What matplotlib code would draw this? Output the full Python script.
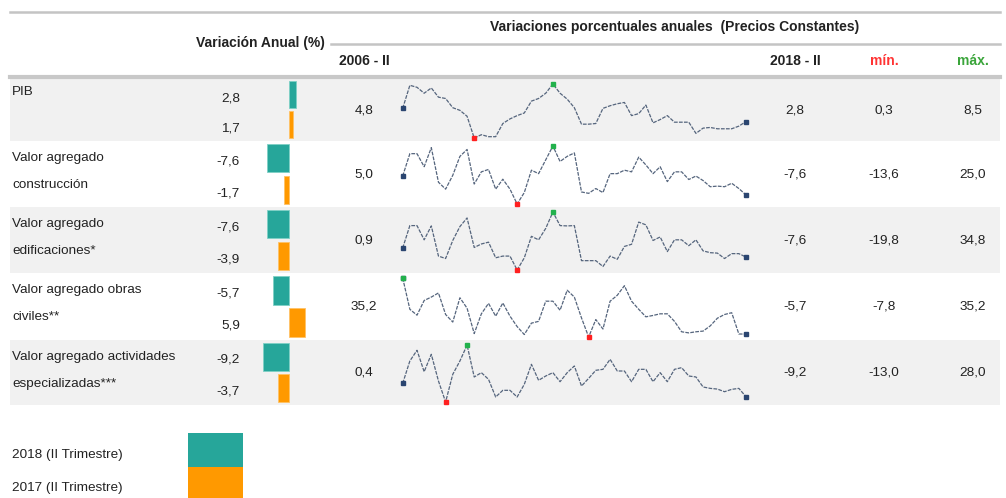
import numpy as np
import matplotlib.pyplot as plt
from matplotlib.patches import Rectangle
from matplotlib import font_manager

# the source uses a condensed face; use it when installed
names = {f.name for f in font_manager.fontManager.ttflist}
if 'Liberation Sans Narrow' in names:
    plt.rcParams['font.family'] = ['Liberation Sans Narrow', 'DejaVu Sans']
    FS, FSB = 11.8, 12.0
else:
    plt.rcParams['font.family'] = ['Liberation Sans', 'DejaVu Sans']
    FS, FSB = 9.7, 10

W, H = 1006, 498

# ---- data ----
row_labels = ["PIB",
              "Valor agregado\nconstrucción",
              "Valor agregado\nedificaciones*",
              "Valor agregado obras\nciviles**",
              "Valor agregado actividades\nespecializadas***"]

var_2018 = [2.8, -7.6, -7.6, -5.7, -9.2]
var_2017 = [1.7, -1.7, -3.9, 5.9, -3.7]

# quarterly annual variation, 2006-II .. 2018-II (49 quarters)
pib = [4.8, 8.3, 8.0, 7.1, 7.9, 6.5, 6.3, 4.9, 4.5, 3.6,
       0.3, 0.8, 0.5, 0.5, 2.5, 3.2, 3.7, 4.1, 5.9, 6.3,
       7.1, 8.5, 7.1, 6.2, 4.9, 2.4, 2.4, 2.5, 4.8, 5.2,
       5.5, 5.7, 3.7, 4.0, 5.3, 2.6, 3.1, 3.7, 2.7, 2.7,
       2.7, 1.0, 1.8, 1.9, 1.7, 1.7, 1.7, 2.1, 2.8]
construccion = [5.0, 19.9, 19.9, 11.2, 23.9, 0.9, -3.7, 5.5, 18.1, 22.7,
                -0.3, 7.8, 9.4, -3.7, 2.9, -3.7, -13.6, -6.0, 8.9, 6.6,
                15.8, 25.0, 14.7, 18.1, 20.4, -5.6, -6.5, -3.3, -6.0, 6.6,
                6.6, 8.9, 7.8, 17.6, 12.4, 6.6, 11.2, 1.3, 7.8, 7.8,
                2.7, 5.0, 2.0, -2.1, -1.7, -2.1, 0.2, -3.3, -7.6]
edificaciones = [0.9, 22.0, 22.0, 8.6, 21.7, -6.7, -9.0, 8.0, 21.1, 29.2,
                 1.4, 4.7, 6.4, -8.3, -6.7, -6.7, -19.8, -8.4, 11.9, 8.6,
                 19.4, 34.8, 22.0, 21.7, 22.0, -11.0, -11.0, -11.0, -16.5, -6.7,
                 -9.7, 2.4, 4.4, 25.3, 22.7, 8.0, 11.3, -2.5, 8.6, 8.6,
                 3.1, 8.6, -1.8, -3.5, -3.9, -9.0, -4.4, -4.4, -7.6]
obras_civiles = [35.2, 12.4, 8.1, 18.8, 21.3, 24.3, 8.6, 3.1, 20.8, 13.2,
                 -5.3, 9.1, 16.7, 7.4, 17.0, 7.4, -0.2, -6.0, 2.3, 3.6,
                 18.3, 18.3, 11.7, 26.3, 21.3, 6.1, -7.8, 4.9, -2.0, 18.3,
                 22.6, 29.6, 18.3, 12.4, 6.9, 7.9, 9.1, 9.1, 3.6, -4.0,
                 -4.8, -4.0, -3.5, 0.3, 5.9, 8.6, 9.9, -5.6, -5.7]
actividades = [0.4, 16.5, 24.2, 8.8, 21.3, 2.1, -13.0, 6.9, 16.5, 28.0,
               5.0, 8.1, 3.3, -9.4, -4.6, -4.6, -9.4, -0.3, 14.1, 2.6,
               5.7, 8.1, 1.6, 8.1, 12.9, -1.5, 4.0, 9.8, 10.5, 17.7,
               9.3, 9.3, 1.6, 10.5, 10.5, 1.6, 8.1, 1.6, 10.5, 11.7,
               5.7, 5.0, -2.2, -3.2, -3.7, -5.6, -3.9, -3.2, -9.2]

series = [pib, construccion, edificaciones, obras_civiles, actividades]

TEAL = '#26a69a'
ORANGE = '#ff9900'
TXT = '#222222'


def fmt(v):
    return f"{v:.1f}".replace('.', ',')


def px_axes(fig, x0, y0, x1, y1):
    return fig.add_axes([x0 / W, 1 - y1 / H, (x1 - x0) / W, (y1 - y0) / H])


fig = plt.figure(figsize=(W / 100, H / 100), dpi=100)
bg = fig.add_axes([0, 0, 1, 1])
bg.set_xlim(0, W)
bg.set_ylim(H, 0)
bg.axis('off')

# row layout (pixels)
row_tops = [79, 141, 207, 273, 340]
row_bots = [141, 207, 273, 340, 405]

for i, (t, b) in enumerate(zip(row_tops, row_bots)):
    if i % 2 == 0:
        bg.add_patch(Rectangle((10, t), 990, b - t, color='#f1f1f1', lw=0, zorder=0))

# header lines
bg.plot([10, 1000], [12, 12], color='#c4c4c4', lw=1.8)
bg.plot([331, 1000], [44, 44], color='#c4c4c4', lw=1.8)
bg.plot([10, 1000], [76.5, 76.5], color='#c8c8c8', lw=3)

bg.text(260, 43, "Variación Anual (%)", ha='center', va='center',
        fontsize=FSB, fontweight='bold', color=TXT)
bg.text(675, 27, "Variaciones porcentuales anuales  (Precios Constantes)",
        ha='center', va='center', fontsize=FSB, fontweight='bold', color=TXT)
bg.text(364, 61, "2006 - II", ha='center', va='center', fontsize=FSB,
        fontweight='bold', color=TXT)
bg.text(795, 61, "2018 - II", ha='center', va='center', fontsize=FSB,
        fontweight='bold', color=TXT)
bg.text(884, 61, "mín.", ha='center', va='center', fontsize=FSB,
        fontweight='bold', color='#ff3333')
bg.text(973, 61, "máx.", ha='center', va='center', fontsize=FSB,
        fontweight='bold', color='#3aa53a')

for i, (t, b) in enumerate(zip(row_tops, row_bots)):
    s = np.array(series[i])
    mid = (t + b) / 2

    # row label
    lines = row_labels[i].split('\n')
    if len(lines) == 1:
        bg.text(12, t + 13, lines[0], ha='left', va='center', fontsize=FS, color=TXT)
    else:
        bg.text(12, t + 17, lines[0], ha='left', va='center', fontsize=FS, color=TXT)
        bg.text(12, t + 44, lines[1], ha='left', va='center', fontsize=FS, color=TXT)

    # bars
    bax = px_axes(fig, 230, t + 1, 320, b - 1)
    bax.barh([0, 1], [var_2018[i], var_2017[i]], height=0.9,
             color=[TEAL, ORANGE], edgecolor=['#7fd0c6', '#ffc266'], linewidth=0.6)
    bax.set_xlim((230 - 288.5) / 2.8, (320 - 288.5) / 2.8)
    bax.set_ylim(1.5, -0.5)
    bax.axis('off')
    unit = (b - t - 2) / 2
    bg.text(240, t + 1 + unit * 0.5 + 3, fmt(var_2018[i]), ha='right', va='center',
            fontsize=FS, color=TXT)
    bg.text(240, t + 1 + unit * 1.5 + 3, fmt(var_2017[i]), ha='right', va='center',
            fontsize=FS, color=TXT)

    # numbers
    bg.text(364, mid, fmt(s[0]), ha='center', va='center', fontsize=FS, color=TXT)
    bg.text(795, mid, fmt(s[-1]), ha='center', va='center', fontsize=FS, color=TXT)
    bg.text(884, mid, fmt(s.min()), ha='center', va='center', fontsize=FS, color=TXT)
    bg.text(973, mid, fmt(s.max()), ha='center', va='center', fontsize=FS, color=TXT)

    # sparkline
    sax = px_axes(fig, 402.7, t + 5, 746, b - 3)
    x = np.arange(len(s))
    sax.plot(x, s, color='#55657d', lw=0.9, ls=(0, (3, 1)), clip_on=False)
    sax.plot([x[0], x[-1]], [s[0], s[-1]], 's', color='#2a4570', ms=2.3, clip_on=False)
    sax.plot(x[s.argmin()], s.min(), 's', color='#ff2020', ms=2.4, clip_on=False)
    sax.plot(x[s.argmax()], s.max(), 's', color='#22b14c', ms=2.4, clip_on=False)
    sax.set_xlim(0, len(s) - 1)
    sax.set_ylim(s.min(), s.max())
    sax.axis('off')

# legend
bg.add_patch(Rectangle((188, 433), 55, 34, color=TEAL, lw=0))
bg.add_patch(Rectangle((188, 467), 55, 31, color=ORANGE, lw=0))
bg.text(12, 455, "2018 (II Trimestre)", ha='left', va='center', fontsize=FS, color=TXT)
bg.text(12, 488, "2017 (II Trimestre)", ha='left', va='center', fontsize=FS, color=TXT)

fig.savefig('out.png', dpi=100)
